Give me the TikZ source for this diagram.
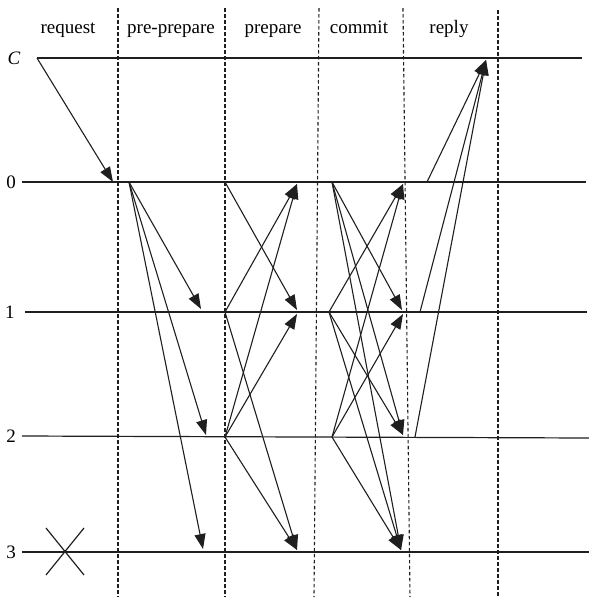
\documentclass[tikz,border=0pt]{standalone}
\usepackage{fontspec}
\setmainfont{Liberation Serif}
\usetikzlibrary{arrows.meta}
\begin{document}
\begin{tikzpicture}[x=1pt,y=-1pt,
  tl/.style={line width=1.2pt,draw=black!88},
  phase/.style={line width=1.1pt,draw=black!88,dash pattern=on 3.5pt off 2.5pt},
  msg/.style={line width=1.1pt,draw=black!88,-{Triangle[length=15pt,width=11pt]}},
  hdr/.style={font=\fontsize{19}{22}\selectfont,inner sep=0pt,anchor=base},
  lbl/.style={font=\fontsize{19}{22}\selectfont,inner sep=0pt}]
\useasboundingbox (0,0) rectangle (589,603);
% timelines
\coordinate (cL) at (37,58);  \coordinate (cR) at (582,58);
\coordinate (aL) at (22,182); \coordinate (aR) at (586,182);
\coordinate (bL) at (25,312); \coordinate (bR) at (587,312);
\coordinate (eL) at (22,436); \coordinate (eR) at (589,438);
\coordinate (fL) at (22,552); \coordinate (fR) at (589,552);
\draw[tl] (cL) -- (cR);
\draw[tl] (aL) -- (aR);
\draw[tl] (bL) -- (bR);
\draw[tl] (eL) -- (eR);
\draw[tl] (fL) -- (fR);
% phase separators
\coordinate (d1t) at (118,8);  \coordinate (d1b) at (118,597);
\coordinate (d2t) at (225,8);  \coordinate (d2b) at (225,597);
\coordinate (d3t) at (319,8);  \coordinate (d3b) at (314,597);
\coordinate (d4t) at (403,8);  \coordinate (d4b) at (410,597);
\coordinate (d5t) at (498,10); \coordinate (d5b) at (498,597);
\draw[phase] (d1t) -- (d1b);
\draw[phase] (d2t) -- (d2b);
\draw[phase] (d3t) -- (d3b);
\draw[phase] (d4t) -- (d4b);
\draw[phase] (d5t) -- (d5b);
% headers
\node[hdr] (hreq) at (68,33) {request};
\node[hdr] (hpp)  at (171,33) {pre-prepare};
\node[hdr] (hpr)  at (273,33) {prepare};
\node[hdr] (hcm)  at (359,33) {commit};
\node[hdr] (hrp)  at (449,33) {reply};
% replica labels
\node[lbl] (lc) at (14,58) {\textit{C}};
\node[lbl] (l0) at (11,182) {0};
\node[lbl] (l1) at (10,312) {1};
\node[lbl] (l2) at (11,436) {2};
\node[lbl] (l3) at (11,552) {3};
% request
\coordinate (rq0) at (113,182);
\draw[msg] (cL) -- (rq0);
% pre-prepare
\coordinate (pp0) at (129,182);
\coordinate (pp1) at (201,309);
\coordinate (pp2) at (206,435);
\coordinate (pp3) at (203,549);
\draw[msg] (pp0) -- (pp1);
\draw[msg] (pp0) -- (pp2);
\draw[msg] (pp0) -- (pp3);
% prepare
\coordinate (ps0) at (225,182);
\coordinate (ps1) at (225,312);
\coordinate (ps2) at (225,437);
\coordinate (pt0) at (297,184);
\coordinate (pt1a) at (297,310);
\coordinate (pt1b) at (297,314);
\coordinate (pt3) at (297,550);
\draw[msg] (ps0) -- (pt1a);
\draw[msg] (ps1) -- (pt0);
\draw[msg] (ps1) -- (pt3);
\draw[msg] (ps2) -- (pt0);
\draw[msg] (ps2) -- (pt1b);
\draw[msg] (ps2) -- (pt3);
% commit
\coordinate (cs0) at (332,182);
\coordinate (cs1) at (329,312);
\coordinate (cs2) at (332,437);
\coordinate (ct0) at (403,184);
\coordinate (ct1a) at (402,310);
\coordinate (ct1b) at (403,314);
\coordinate (ct2) at (403,435);
\coordinate (ct3) at (401,550);
\draw[msg] (cs0) -- (ct1a);
\draw[msg] (cs0) -- (ct2);
\draw[msg] (cs0) -- (ct3);
\draw[msg] (cs1) -- (ct0);
\draw[msg] (cs1) -- (ct2);
\draw[msg] (cs1) -- (ct3);
\draw[msg] (cs2) -- (ct0);
\draw[msg] (cs2) -- (ct1b);
\draw[msg] (cs2) -- (ct3);
% reply
\coordinate (rs0) at (427,182);
\coordinate (rs1) at (420,312);
\coordinate (rs2) at (415,437);
\coordinate (rc) at (486,60);
\draw[msg] (rs0) -- (rc);
\draw[msg] (rs1) -- (rc);
\draw[msg] (rs2) -- (rc);
% failed replica cross
\coordinate (x1) at (46,528); \coordinate (x2) at (84,575);
\coordinate (x3) at (84,528); \coordinate (x4) at (46,575);
\draw[tl] (x1) -- (x2);
\draw[tl] (x3) -- (x4);
\end{tikzpicture}
\end{document}
